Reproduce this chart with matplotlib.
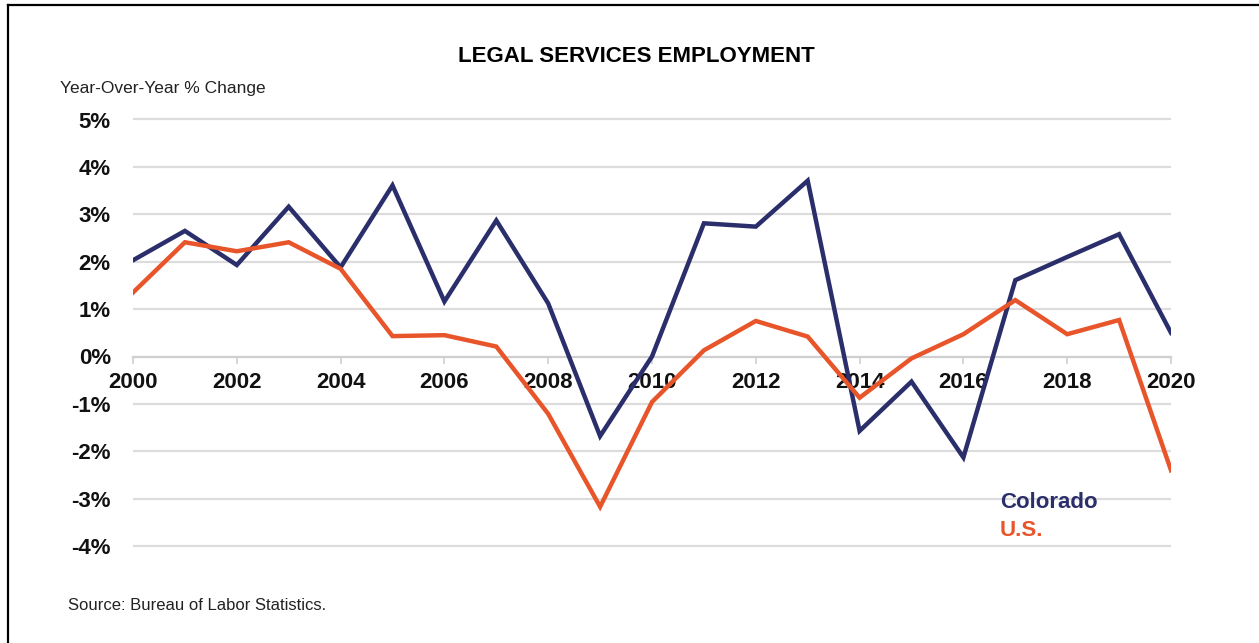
import numpy as np
import matplotlib.pyplot as plt
from matplotlib.lines import Line2D
from matplotlib.ticker import FuncFormatter

years = list(range(2000, 2021))
colorado = [2.03, 2.65, 1.93, 3.16, 1.88, 3.61, 1.16, 2.87, 1.12, -1.68, 0.0,
            2.81, 2.74, 3.71, -1.57, -0.53, -2.13, 1.61, 2.1, 2.58, 0.5]
us = [1.35, 2.41, 2.22, 2.41, 1.85, 0.43, 0.45, 0.21, -1.21, -3.17, -0.96,
      0.13, 0.75, 0.42, -0.87, -0.04, 0.47, 1.19, 0.47, 0.77, -2.4]
series_names = ['Colorado', 'U.S.']
navy = '#2A2E6A'
orange = '#E8552A'

W, H = 1259, 643
fig = plt.figure(figsize=(W / 100, H / 100), dpi=100)

# axes placed so that 0% sits at y=356.5 px and 1% spans 47.4 px
ymin, ymax = -4.2, 5.2
top_px = 356.5 - 47.4 * ymax
bot_px = 356.5 - 47.4 * ymin
left_px, right_px = 133, 1171
ax = fig.add_axes([left_px / W, 1 - bot_px / H, (right_px - left_px) / W, (bot_px - top_px) / H])

ax.plot(years, colorado, color=navy, lw=3.2, solid_joinstyle='miter', zorder=3)
ax.plot(years, us, color=orange, lw=3.2, solid_joinstyle='miter', zorder=3)

ax.set_xlim(2000, 2020)
ax.set_ylim(ymin, ymax)
ax.set_yticks(np.arange(-4, 6, 1))
ax.yaxis.set_major_formatter(FuncFormatter(lambda v, p: f'{int(round(v))}%'))
ax.set_xticks(np.arange(2000, 2021, 2))

for v in np.arange(-4, 6, 1):
    if v != 0:
        ax.axhline(v, color='#DCDCDC', lw=1.6, zorder=1)

for s in ['top', 'right', 'left']:
    ax.spines[s].set_visible(False)
ax.spines['bottom'].set_position(('data', 0))
ax.spines['bottom'].set_color('#CFCFCF')
ax.spines['bottom'].set_linewidth(1.6)
ax.spines['bottom'].set_zorder(1)

ax.tick_params(axis='y', length=0, pad=16, labelsize=16)
ax.tick_params(axis='x', direction='out', length=5, width=1.2, color='#CFCFCF',
               pad=6, labelsize=16)
for lab in ax.get_xticklabels() + ax.get_yticklabels():
    lab.set_fontweight('bold')
    lab.set_fontfamily('Liberation Sans')
    lab.set_color('#111111')

fig.text(636 / W, 1 - 56 / H, 'LEGAL SERVICES EMPLOYMENT', ha='center', va='center',
         fontsize=16, fontweight='bold', fontstretch='condensed',
         family='Liberation Sans', color='#000000')
fig.text(60 / W, 1 - 88 / H, 'Year-Over-Year % Change', ha='left', va='center',
         fontsize=12.5, family='Liberation Sans', color='#222222')
fig.text(68 / W, 1 - 605 / H, 'Source: Bureau of Labor Statistics.', ha='left', va='center',
         fontsize=12, family='Liberation Sans', color='#222222')

fig.text(1000 / W, 1 - 502 / H, series_names[0], ha='left', va='center', fontsize=16,
         fontweight='bold', family='Liberation Sans', color=navy)
fig.text(1000 / W, 1 - 531 / H, series_names[1], ha='left', va='center', fontsize=16,
         fontweight='bold', family='Liberation Sans', color=orange)

# frame lines along left and top edge
fig.add_artist(Line2D([8 / W, 8 / W], [0, 1 - 5 / H], transform=fig.transFigure,
                      color='black', lw=1.6))
fig.add_artist(Line2D([8 / W, 1], [1 - 5 / H, 1 - 5 / H], transform=fig.transFigure,
                      color='black', lw=1.6))

fig.savefig('out.png', dpi=100)
